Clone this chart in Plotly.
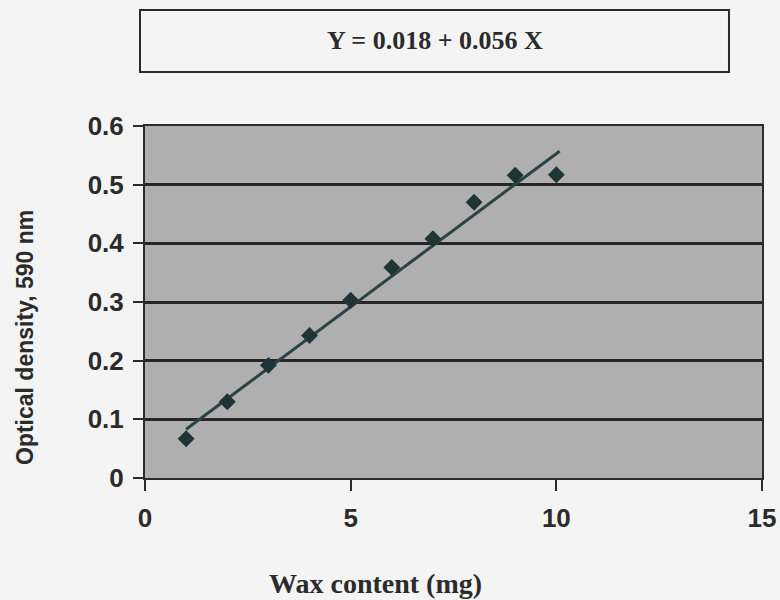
import plotly.graph_objects as go

# Data
wax_mg = [1, 2, 3, 4, 5, 6, 7, 8, 9, 10]
optical_density = [0.067, 0.130, 0.192, 0.243, 0.303, 0.359, 0.408, 0.470, 0.516, 0.517]
trend_x = [1.0, 10.08]
trend_y = [0.083, 0.557]
x_ticks = [0, 5, 10, 15]
y_ticks = [0, 0.1, 0.2, 0.3, 0.4, 0.5, 0.6]
y_tick_labels = ["0", "0.1", "0.2", "0.3", "0.4", "0.5", "0.6"]
equation_text = "Y = 0.018 + 0.056 X"
x_title = "Wax content (mg)"
y_title = "Optical density, 590 nm"

fig = go.Figure()
fig.add_trace(go.Scatter(
    x=trend_x, y=trend_y, mode="lines",
    line=dict(color="#2a4343", width=3), showlegend=False, hoverinfo="skip"))
fig.add_trace(go.Scatter(
    x=wax_mg, y=optical_density, mode="markers",
    marker=dict(symbol="diamond", size=13, color="#1f3535"), showlegend=False))

axis_font = dict(family="Arial, Liberation Sans, sans-serif", size=26,
                 color="#2b2b2b", weight="bold")

fig.update_layout(
    width=780, height=600,
    margin=dict(l=145, r=18, t=126, b=122, autoexpand=False),
    paper_bgcolor="#f4f4f4",
    plot_bgcolor="#afafaf",
    xaxis=dict(range=[0, 15], tickvals=x_ticks, ticks="outside", ticklen=11,
               tickwidth=2, tickcolor="#2b2b2b", showgrid=False, zeroline=False,
               showline=True, linecolor="#2b2b2b", linewidth=2, mirror=True,
               tickfont=axis_font, ticklabelstandoff=5, fixedrange=True,
               automargin=False),
    yaxis=dict(range=[0, 0.6], tickvals=y_ticks, ticktext=y_tick_labels,
               ticks="outside", ticklen=10, tickwidth=2, tickcolor="#2b2b2b",
               showgrid=True, gridcolor="#262626", gridwidth=2.5, zeroline=False,
               showline=True, linecolor="#2b2b2b", linewidth=2, mirror=True,
               tickfont=axis_font, ticklabelstandoff=4, fixedrange=True,
               automargin=False),
    shapes=[dict(type="rect", xref="paper", yref="paper",
                 x0=-0.0081, x1=0.9465, y0=1.1534, y1=1.3295,
                 line=dict(color="#2b2b2b", width=2), fillcolor="rgba(0,0,0,0)")],
    annotations=[
        dict(text=f"<b>{equation_text}</b>", xref="paper", yref="paper",
             x=0.470, y=1.2415, showarrow=False, xanchor="center", yanchor="middle",
             font=dict(family="Liberation Serif, Times New Roman, serif", size=26, color="#2b2b2b")),
        dict(text=f"<b>{y_title}</b>", xref="paper", yref="paper",
             x=-0.1945, y=0.4006, showarrow=False, textangle=-90,
             xanchor="center", yanchor="middle",
             font=dict(family="Arial, Liberation Sans, sans-serif", size=23, color="#2b2b2b")),
        dict(text=f"<b>{x_title}</b>", xref="paper", yref="paper",
             x=0.3728, y=-0.299, showarrow=False, xanchor="center", yanchor="middle",
             font=dict(family="Liberation Serif, Times New Roman, serif", size=28, color="#2b2b2b")),
    ],
)

fig.write_html("out.html", config={"displayModeBar": False},
               post_script="document.body.style.margin='0';")
